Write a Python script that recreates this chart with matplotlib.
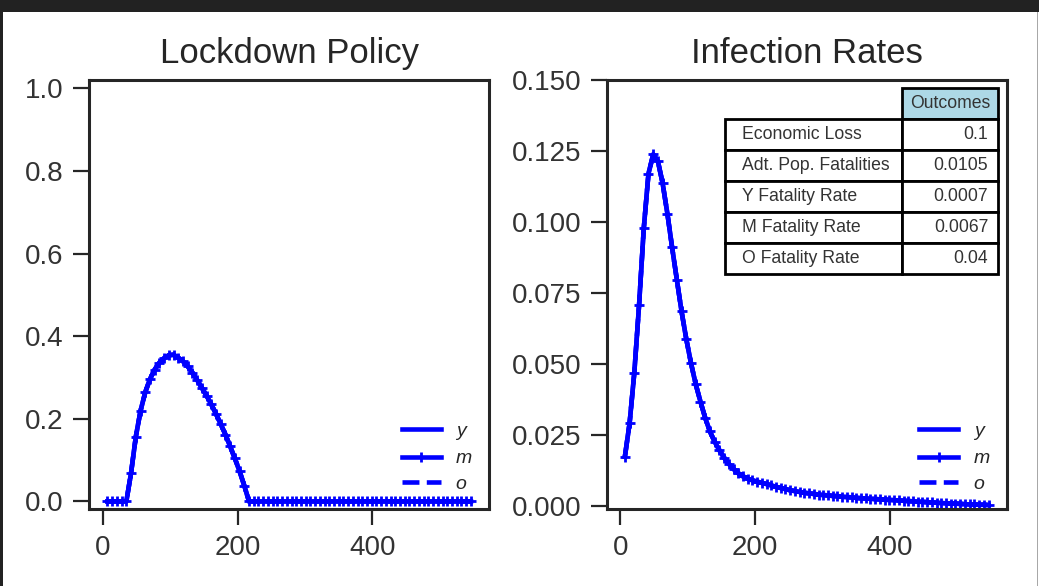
import matplotlib
matplotlib.use("Agg")
import matplotlib.pyplot as plt
from matplotlib.patches import Rectangle
from matplotlib.table import Table

# ---------------- data ----------------
days = list(range(7, 547, 7))  # 7, 14, ..., 546

lockdown = [0.0, 0.0, 0.0, 0.0, 0.0,
            0.069, 0.156, 0.219, 0.264, 0.296, 0.319, 0.336, 0.347, 0.354, 0.355,
            0.348, 0.339, 0.327, 0.312, 0.294, 0.275, 0.256, 0.235, 0.212, 0.187,
            0.162, 0.133, 0.104, 0.073, 0.038] + [0.0] * 48

infection = [0.0175, 0.0293, 0.0471, 0.0707, 0.0978, 0.1171, 0.1238, 0.1214, 0.1136, 0.1030,
             0.0911, 0.0798, 0.0686, 0.0589, 0.0504, 0.0430, 0.0369, 0.0312, 0.0264, 0.0228,
             0.0198, 0.0172, 0.0150, 0.0132, 0.0117, 0.0106, 0.0098, 0.0092, 0.0087, 0.0083,
             0.0079, 0.0074,
             0.0069, 0.0065, 0.0061, 0.0057, 0.0054, 0.0051, 0.0048, 0.0046, 0.0044, 0.0042,
             0.0040, 0.0039, 0.0037, 0.0036, 0.0034, 0.0033, 0.0032, 0.0030, 0.0029, 0.0028,
             0.0027, 0.0026, 0.0025, 0.0024, 0.0023, 0.0022, 0.0021, 0.0020, 0.0019, 0.0018,
             0.0017, 0.0016, 0.0015, 0.0014, 0.0013, 0.0012, 0.0011, 0.0010, 0.0010, 0.0009,
             0.0008, 0.0007, 0.0007, 0.0006, 0.0006, 0.0005]

series_labels = ["$y$", "$m$", "$o$"]
series_styles = ["-", "-", "--"]
series_markers = [None, "+", None]

table_rows = ["Economic Loss", "Adt. Pop. Fatalities", "Y Fatality Rate",
              "M Fatality Rate", "O Fatality Rate"]
table_values = ["0.1", "0.0105", "0.0007", "0.0067", "0.04"]
table_header = "Outcomes"

titles = ["Lockdown Policy", "Infection Rates"]
left_yticks = [0.0, 0.2, 0.4, 0.6, 0.8, 1.0]
right_yticks = [0.0, 0.025, 0.05, 0.075, 0.1, 0.125, 0.15]
xticks = [0, 200, 400]

# ---------------- style ----------------
plt.rcParams.update({
    "font.family": ["Liberation Sans", "DejaVu Sans"],
    "mathtext.fontset": "custom",
    "mathtext.it": "Liberation Sans:italic",
    "mathtext.rm": "Liberation Sans",
    "text.color": "#262626",
    "axes.edgecolor": "#262626",
    "axes.linewidth": 2.2,
    "xtick.color": "#262626",
    "ytick.color": "#262626",
    "xtick.labelcolor": "#333333",
    "ytick.labelcolor": "#333333",
    "xtick.major.size": 11.5,
    "ytick.major.size": 11.5,
    "xtick.major.width": 1.6,
    "ytick.major.width": 1.6,
    "xtick.major.pad": 7,
    "ytick.major.pad": 7,
    "xtick.labelsize": 20,
    "ytick.labelsize": 20,
    "axes.titlesize": 25,
})

W, H = 1039, 586
fig = plt.figure(figsize=(W / 100, H / 100), dpi=100, facecolor="white")

# screenshot frame
fig.patches.append(Rectangle((0, 1 - 12 / H), 1, 12 / H, transform=fig.transFigure,
                             facecolor="#222222", edgecolor="none", zorder=10))
fig.patches.append(Rectangle((0, 0), 3 / W, 1, transform=fig.transFigure,
                             facecolor="#222222", edgecolor="none", zorder=10))
fig.patches.append(Rectangle((1036.5 / W, 0), 1.2 / W, 1 - 12 / H, transform=fig.transFigure,
                             facecolor="#a8a8a8", edgecolor="none", zorder=10))

ax1 = fig.add_axes([89.3 / W, (H - 509.3) / H, 399.7 / W, 429.3 / H])
ax2 = fig.add_axes([606.7 / W, (H - 509.3) / H, 400 / W, 429.3 / H])

for ax, data, title in [(ax1, lockdown, titles[0]), (ax2, infection, titles[1])]:
    for lab, ls, mk in zip(series_labels, series_styles, series_markers):
        ax.plot(days, data, color="blue", linestyle=ls, marker=mk, lw=3.3,
                markersize=7, markeredgewidth=2.0, label=lab)
    ax.set_title(title, pad=12.5)
    ax.set_xticks(xticks)
    ax.tick_params(top=False, right=False, direction="out")
    ax.set_xlim(-19.95, 572.95)
    ax.legend(loc="lower right", frameon=False, fontsize=14,
              handlelength=2.0, handletextpad=0.75, labelspacing=0.4,
              borderaxespad=0.45)

ax1.set_yticks(left_yticks)
ax1.set_ylim(-0.019, 1.02)
ax2.set_yticks(right_yticks)
ax2.set_yticklabels([f"{v:.3f}" for v in right_yticks])
ax2.set_ylim(-0.001, 0.15)

# table (built cell by cell, placed in axes coordinates)
tbl = Table(ax2, bbox=[0.295, 0.547, 0.683, 0.434])
lab_w, val_w, row_h = 177, 96, 31
tbl.add_cell(0, 1, width=val_w, height=row_h, text=table_header,
             loc="center", facecolor="lightblue")
for i, (name, val) in enumerate(zip(table_rows, table_values), start=1):
    tbl.add_cell(i, 0, width=lab_w, height=row_h, text=name, loc="left",
                 facecolor="white")
    tbl.add_cell(i, 1, width=val_w, height=row_h, text=val, loc="right",
                 facecolor="white")
tbl.auto_set_font_size(False)
tbl.set_fontsize(12.7)
for (r, c), cell in tbl.get_celld().items():
    cell.set_linewidth(2)
    cell.set_edgecolor("black")
    cell.get_text().set_color("#333333")
ax2.add_table(tbl)

fig.savefig("out.png", dpi=100, facecolor="white")
